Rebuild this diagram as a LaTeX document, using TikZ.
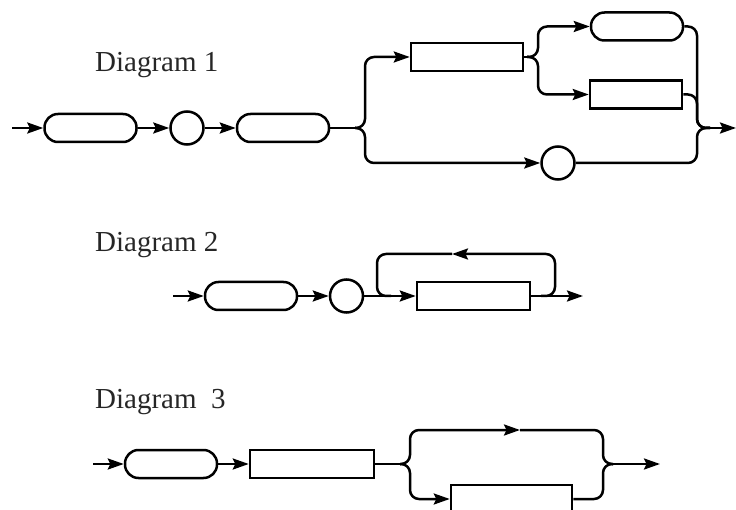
\documentclass[tikz,border=0pt]{standalone}
\usepackage{fontspec}
\setmainfont{Liberation Serif}
\usetikzlibrary{arrows.meta}
\begin{document}
\begin{tikzpicture}[x=1pt,y=-1pt,
  wire/.style={line width=2.5pt, line join=round, rounded corners=9pt},
  arr/.style={-{Stealth[length=16pt,width=11pt,inset=2.5pt]}},
  rbox/.style={draw, line width=2.5pt, rounded corners=13.5pt, minimum width=92pt, minimum height=28pt, inner sep=0pt},
  sbox/.style={draw, line width=2.5pt, minimum height=28pt, inner sep=0pt},
  circ/.style={draw, line width=2.5pt, circle, minimum size=33pt, inner sep=0pt},
  lbl/.style={anchor=base west, inner sep=0pt, font=\fontsize{29}{34}\selectfont, text=black!85}]
\useasboundingbox (0,0) rectangle (736,510);

% ---------- Diagram 1 ----------
\node[lbl] (t1) at (95,72) {Diagram 1};
\coordinate (in1) at (12,128);
\node[rbox] (r1) at (90.5,128) {};
\node[circ] (c1) at (187,128) {};
\node[rbox] (r2) at (283,128) {};
\coordinate (b1) at (355,128);
\node[sbox, minimum width=112pt] (s1) at (467,57) {};
\coordinate (b2) at (527,57);
\node[rbox] (r3) at (637,26.5) {};
\node[sbox, minimum width=92pt] (s2) at (636,94.5) {};
\node[circ] (c2) at (558,163) {};
\coordinate (m1) at (710,128);
\coordinate (v1) at (697,128);
\coordinate (o1) at (736,128);

\draw[wire,arr] (in1) -- (r1.west);
\draw[wire,arr] (r1.east) -- (c1.west);
\draw[wire,arr] (c1.east) -- (r2.west);
\draw[wire] (r2.east) -- (b1);
\draw[wire,arr] (b1) -- ++(10,0) |- (s1.west);
\draw[wire,arr] (b1) -- ++(10,0) |- (c2.west);
\draw[wire] (s1.east) -- (b2);
\draw[wire,arr] (b2) -- ++(11,0) |- (r3.west);
\draw[wire,arr] (b2) -- ++(11,0) |- (s2.west);
\draw[wire] (r3.east) -| (v1) -- (m1);
\draw[wire] (s2.east) -| (v1) -- (m1);
\draw[wire] (c2.east) -| (v1) -- (m1);
\draw[wire,arr] (m1) -- (o1);

% ---------- Diagram 2 ----------
\node[lbl] (t2) at (95,252) {Diagram 2};
\coordinate (in2) at (173,296);
\node[rbox] (r4) at (251,296) {};
\node[circ] (c3) at (346.5,296) {};
\node[sbox, minimum width=113pt] (s3) at (473.5,296) {};
\coordinate (o2) at (583,296);
\coordinate (lr) at (541,296);
\coordinate (la) at (452,254);
\coordinate (ll) at (377,296);
\coordinate (lj) at (391,296);

\draw[wire,arr] (in2) -- (r4.west);
\draw[wire,arr] (r4.east) -- (c3.west);
\draw[wire,arr] (c3.east) -- (s3.west);
\draw[wire,arr] (s3.east) -- (o2);
\draw[wire,arr] (lr) -- ++(14,0) |- (la);
\draw[wire] (la) -| (ll) -- (lj);

% ---------- Diagram 3 ----------
\node[lbl] (t3) at (95,408) {Diagram\ \ 3};
\coordinate (in3) at (93,464);
\node[rbox] (r5) at (171,464) {};
\node[sbox, minimum width=124pt] (s4) at (312,464) {};
\coordinate (b3) at (400,464);
\coordinate (ta) at (520,430);
\node[sbox, minimum width=121pt] (s5) at (511.5,499) {};
\coordinate (v3) at (603,464);
\coordinate (m3) at (613,464);
\coordinate (o3) at (660,464);

\draw[wire,arr] (in3) -- (r5.west);
\draw[wire,arr] (r5.east) -- (s4.west);
\draw[wire] (s4.east) -- (b3);
\draw[wire,arr] (b3) -- ++(10,0) |- (ta);
\draw[wire] (ta) -| (v3) -- (m3);
\draw[wire,arr] (b3) -- ++(10,0) |- (s5.west);
\draw[wire] (s5.east) -| (v3) -- (m3);
\draw[wire,arr] (m3) -- (o3);
\end{tikzpicture}
\end{document}
